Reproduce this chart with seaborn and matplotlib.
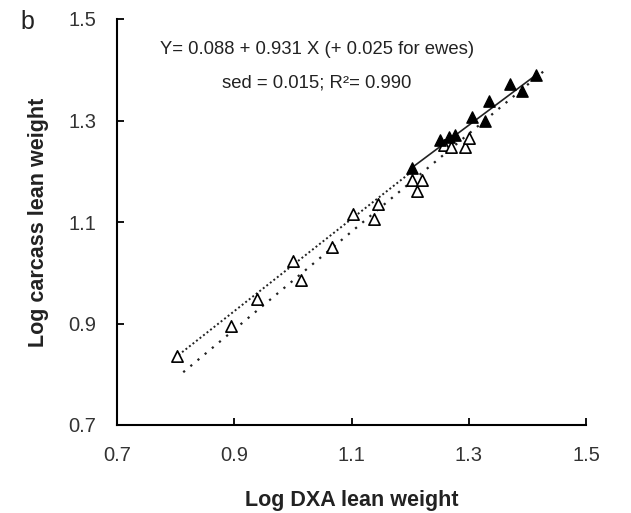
import matplotlib
matplotlib.use("Agg")
import matplotlib.pyplot as plt
import seaborn as sns
import pandas as pd

# Log-transformed lean weights: open triangles and filled triangles
open_dxa = [0.803, 0.894, 0.938, 1.001, 1.014, 1.066, 1.103, 1.138, 1.145,
            1.203, 1.220, 1.212, 1.257, 1.269, 1.294, 1.300]
open_carcass = [0.835, 0.896, 0.949, 1.024, 0.986, 1.050, 1.116, 1.106, 1.136,
                1.182, 1.182, 1.162, 1.251, 1.247, 1.247, 1.265]

filled_dxa = [1.203, 1.251, 1.266, 1.277, 1.306, 1.328, 1.334, 1.371, 1.390, 1.414]
filled_carcass = [1.207, 1.261, 1.267, 1.272, 1.306, 1.300, 1.339, 1.372, 1.359, 1.389]

# Fitted lines (end points)
fit_open_x = [0.805, 1.198]
fit_open_y = [0.838, 1.195]
fit_filled_x = [1.203, 1.414]
fit_filled_y = [1.207, 1.389]
fit_all_x = [0.813, 1.436]
fit_all_y = [0.804, 1.405]

x_ticks = [0.7, 0.9, 1.1, 1.3, 1.5]
y_ticks = [0.7, 0.9, 1.1, 1.3, 1.5]

equation_text = "Y= 0.088 + 0.931 X (+ 0.025 for ewes)"
stats_text = "sed = 0.015; R\u00b2= 0.990"

sns.set_theme(style="ticks")
plt.rcParams["font.family"] = ["Liberation Sans", "DejaVu Sans"]

fig = plt.figure(figsize=(6.31, 5.13), dpi=100)
ax = fig.add_axes([117 / 631, 1 - 425 / 513, 469 / 631, 406 / 513])

sns.lineplot(x=fit_all_x, y=fit_all_y, ax=ax, color="#222222", lw=1.6,
             linestyle=(0, (1.0, 3.2)), sort=False)
sns.lineplot(x=fit_open_x, y=fit_open_y, ax=ax, color="#222222", lw=1.4,
             linestyle=(0, (1.0, 1.3)), sort=False)
sns.lineplot(x=fit_filled_x, y=fit_filled_y, ax=ax, color="#222222", lw=1.2,
             sort=False)

open_df = pd.DataFrame({"dxa": open_dxa, "carcass": open_carcass})
filled_df = pd.DataFrame({"dxa": filled_dxa, "carcass": filled_carcass})

sns.scatterplot(data=open_df, x="dxa", y="carcass", ax=ax, marker="^", s=66,
                facecolor="white", edgecolor="black", linewidth=1.2, zorder=3)
sns.scatterplot(data=filled_df, x="dxa", y="carcass", ax=ax, marker="^", s=66,
                color="black", edgecolor="black", linewidth=1.0, zorder=4)

ax.set_xlim(0.7, 1.5)
ax.set_ylim(0.7, 1.5)
ax.set_xticks(x_ticks)
ax.set_yticks(y_ticks)
ax.set_xticklabels([f"{v:.1f}" for v in x_ticks])
ax.set_yticklabels([f"{v:.1f}" for v in y_ticks])
ax.tick_params(direction="in", length=5, width=1.3, labelsize=14.5,
               pad=15, colors="black", labelcolor="#333333")
for side in ("top", "right"):
    ax.spines[side].set_visible(False)
for side in ("left", "bottom"):
    ax.spines[side].set_linewidth(1.5)
    ax.spines[side].set_color("black")

ax.set_xlabel("Log DXA lean weight", fontsize=15.5, fontweight="bold",
              color="#222222", labelpad=18)
ax.set_ylabel("Log carcass lean weight", fontsize=15.5, fontweight="bold",
              color="#222222", labelpad=14)

ax.text(1.041, 1.44, equation_text, fontsize=13.3, ha="center", va="center",
        color="#222222")
ax.text(1.041, 1.373, stats_text, fontsize=13.3, ha="center", va="center",
        color="#222222")

fig.text(27 / 631, 1 - 22 / 513, "b", fontsize=18, ha="center", va="center",
         color="#222222")

fig.savefig("out.png", dpi=100)
